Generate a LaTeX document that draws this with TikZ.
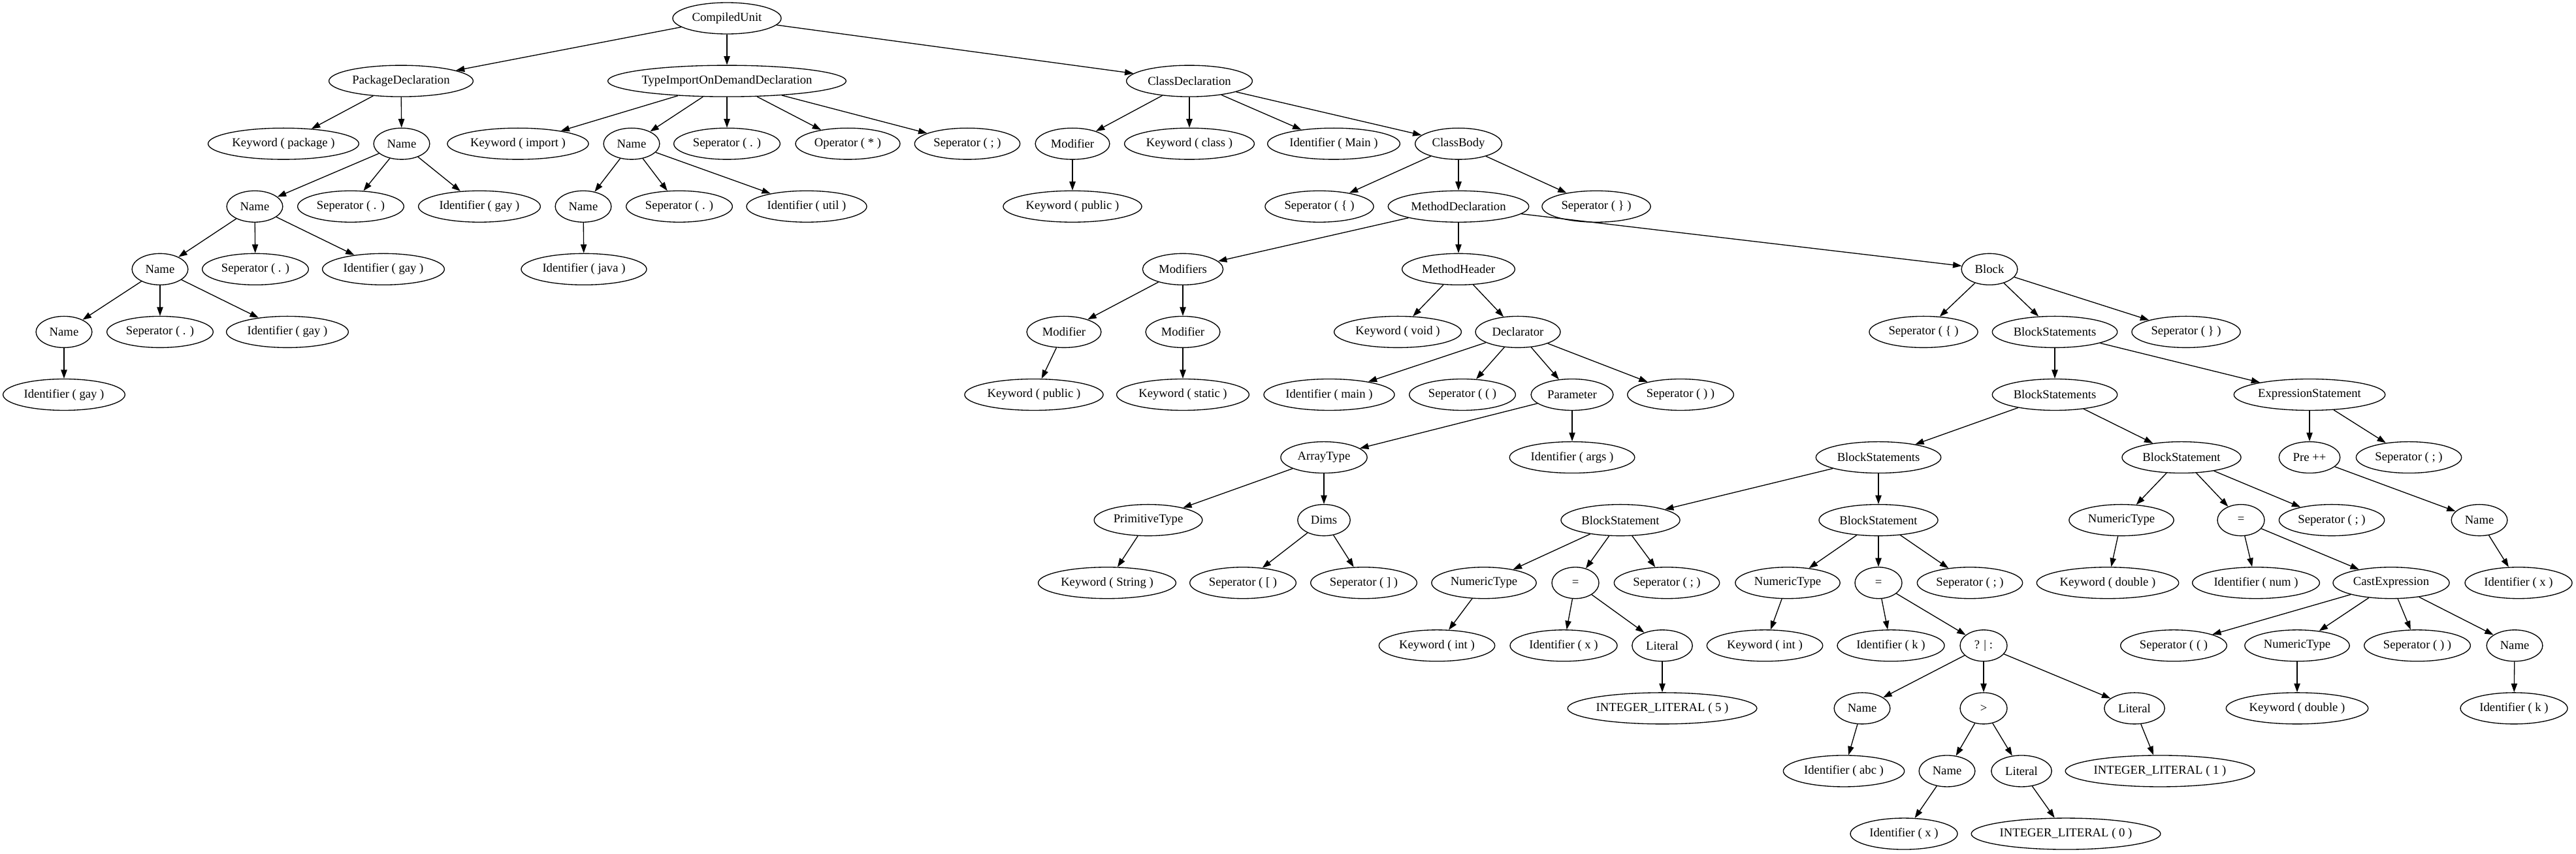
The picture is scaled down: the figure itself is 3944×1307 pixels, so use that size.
\documentclass[tikz,border=0pt]{standalone}
\usepackage{fontspec}
\setmainfont{Liberation Serif}
\usetikzlibrary{shapes.geometric,arrows.meta}
\newcommand\mk[1]{\makebox[0.912\width]{#1}}
\newcommand\nd[4]{\node[tn] (#1) at (#2,{28+96.08*#3}) {\mk{#4}};}
\tikzset{
  tn/.style={ellipse, draw, line width=1pt, inner xsep=7.5pt, inner ysep=3pt,
    minimum height=36pt, minimum width=54pt, font=\fontsize{14}{16}\selectfont},
  edge/.style={line width=1pt, -{Triangle[length=10pt,width=7pt]}}
}
\begin{document}
\begin{tikzpicture}[x=0.75pt,y=-0.75pt]
\useasboundingbox (0,0) rectangle (3944,1307);
% L0
\nd{cu}{1113}{0}{CompiledUnit}
% L1
\nd{pd}{614}{1}{PackageDeclaration}
\nd{tid}{1113}{1}{TypeImportOnDemandDeclaration}
\nd{cd}{1821}{1}{ClassDeclaration}
% L2
\nd{kpkg}{434}{2}{Keyword ( package )}
\nd{n1}{615}{2}{Name}
\nd{kimp}{793}{2}{Keyword ( import )}
\nd{n2}{967}{2}{Name}
\nd{sdot1}{1113}{2}{Seperator ( . )}
\nd{opstar}{1298}{2}{Operator ( * )}
\nd{ssemi1}{1481}{2}{Seperator ( ; )}
\nd{mod1}{1642}{2}{Modifier}
\nd{kclass}{1821}{2}{Keyword ( class )}
\nd{idmain}{2042}{2}{Identifier ( Main )}
\nd{cbody}{2233}{2}{ClassBody}
% L3
\nd{n3}{390}{3}{Name}
\nd{sdot2}{537}{3}{Seperator ( . )}
\nd{idgay1}{734}{3}{Identifier ( gay )}
\nd{n4}{893}{3}{Name}
\nd{sdot3}{1040}{3}{Seperator ( . )}
\nd{idutil}{1235}{3}{Identifier ( util )}
\nd{kpub1}{1642}{3}{Keyword ( public )}
\nd{slb}{2020}{3}{Seperator ( \{ )}
\nd{md}{2233}{3}{MethodDeclaration}
\nd{srb}{2444}{3}{Seperator ( \} )}
% L4
\nd{n5}{245}{4}{Name}
\nd{sdot4}{391}{4}{Seperator ( . )}
\nd{idgay2}{587}{4}{Identifier ( gay )}
\nd{idjava}{894}{4}{Identifier ( java )}
\nd{mods}{1811}{4}{Modifiers}
\nd{mh}{2233}{4}{MethodHeader}
\nd{block}{3046}{4}{Block}
% L5
\nd{n6}{98}{5}{Name}
\nd{sdot5}{245}{5}{Seperator ( . )}
\nd{idgay3}{440}{5}{Identifier ( gay )}
\nd{modA}{1629}{5}{Modifier}
\nd{modB}{1811}{5}{Modifier}
\nd{kvoid}{2140}{5}{Keyword ( void )}
\nd{decl}{2324}{5}{Declarator}
\nd{slb2}{2945}{5}{Seperator ( \{ )}
\nd{bss1}{3146}{5}{BlockStatements}
\nd{srb2}{3347}{5}{Seperator ( \} )}
% L6
\nd{idgay4}{98}{6}{Identifier ( gay )}
\nd{kpub2}{1583}{6}{Keyword ( public )}
\nd{kstatic}{1811}{6}{Keyword ( static )}
\nd{idmainl}{2035}{6}{Identifier ( main )}
\nd{slp}{2239}{6}{Seperator ( ( )}
\nd{param}{2407}{6}{Parameter}
\nd{srp}{2573}{6}{Seperator ( ) )}
\nd{bss2}{3146}{6}{BlockStatements}
\nd{es}{3536}{6}{ExpressionStatement}
% L7
\nd{at}{2027}{7}{ArrayType}
\nd{idargs}{2407}{7}{Identifier ( args )}
\nd{bss3}{2876}{7}{BlockStatements}
\nd{bs3}{3340}{7}{BlockStatement}
\nd{pre}{3536}{7}{Pre ++}
\nd{ssemi5}{3688}{7}{Seperator ( ; )}
% L8
\nd{pt}{1758}{8}{PrimitiveType}
\nd{dims}{2027}{8}{Dims}
\nd{bs1}{2481}{8}{BlockStatement}
\nd{bs2}{2876}{8}{BlockStatement}
\nd{nt3}{3248}{8}{NumericType}
\nd{eq3}{3431}{8}{=}
\nd{ssemi4}{3570}{8}{Seperator ( ; )}
\nd{nameX}{3796}{8}{Name}
% L9
\nd{kstring}{1695}{9}{Keyword ( String )}
\nd{slbr}{1903}{9}{Seperator ( [ )}
\nd{srbr}{2088}{9}{Seperator ( ] )}
\nd{nt1}{2272}{9}{NumericType}
\nd{eq1}{2412}{9}{=}
\nd{ssemi2}{2552}{9}{Seperator ( ; )}
\nd{nt2}{2737}{9}{NumericType}
\nd{eq2}{2876}{9}{=}
\nd{ssemi3}{3016}{9}{Seperator ( ; )}
\nd{kdouble1}{3227}{9}{Keyword ( double )}
\nd{idnum}{3454}{9}{Identifier ( num )}
\nd{cast}{3661}{9}{CastExpression}
\nd{idx2}{3856}{9}{Identifier ( x )}
% L10
\nd{kint1}{2200}{10}{Keyword ( int )}
\nd{idx1}{2394}{10}{Identifier ( x )}
\nd{lit1}{2545}{10}{Literal}
\nd{kint2}{2702}{10}{Keyword ( int )}
\nd{idk1}{2895}{10}{Identifier ( k )}
\nd{tern}{3037}{10}{? | :}
\nd{slp2}{3328}{10}{Seperator ( ( )}
\nd{nt4}{3517}{10}{NumericType}
\nd{srp2}{3701}{10}{Seperator ( ) )}
\nd{nameK}{3850}{10}{Name}
% L11
\nd{il5}{2545}{11}{INTEGER\_LITERAL ( 5 )}
\nd{nameabc}{2851}{11}{Name}
\nd{gt}{3037}{11}{>}
\nd{lit3}{3268}{11}{Literal}
\nd{kdouble2}{3517}{11}{Keyword ( double )}
\nd{idk2}{3849}{11}{Identifier ( k )}
% L12
\nd{idabc}{2823}{12}{Identifier ( abc )}
\nd{namex}{2981}{12}{Name}
\nd{lit2}{3095}{12}{Literal}
\nd{il1}{3307}{12}{INTEGER\_LITERAL ( 1 )}
% L13
\nd{idx3}{2915}{13}{Identifier ( x )}
\nd{il0}{3163}{13}{INTEGER\_LITERAL ( 0 )}
% edges
\foreach \a/\b in {cu/pd, cu/tid, cu/cd,
  pd/kpkg, pd/n1, n1/n3, n1/sdot2, n1/idgay1, n3/n5, n3/sdot4, n3/idgay2,
  n5/n6, n5/sdot5, n5/idgay3, n6/idgay4,
  tid/kimp, tid/n2, tid/sdot1, tid/opstar, tid/ssemi1, n2/n4, n2/sdot3, n2/idutil, n4/idjava,
  cd/mod1, cd/kclass, cd/idmain, cd/cbody, mod1/kpub1,
  cbody/slb, cbody/md, cbody/srb,
  md/mods, md/mh, md/block, mods/modA, mods/modB, modA/kpub2, modB/kstatic,
  mh/kvoid, mh/decl, decl/idmainl, decl/slp, decl/param, decl/srp,
  param/at, param/idargs, at/pt, at/dims, pt/kstring, dims/slbr, dims/srbr,
  block/slb2, block/bss1, block/srb2, bss1/bss2, bss1/es,
  bss2/bss3, bss2/bs3, es/pre, es/ssemi5, pre/nameX, nameX/idx2,
  bss3/bs1, bss3/bs2,
  bs1/nt1, bs1/eq1, bs1/ssemi2, nt1/kint1, eq1/idx1, eq1/lit1, lit1/il5,
  bs2/nt2, bs2/eq2, bs2/ssemi3, nt2/kint2, eq2/idk1, eq2/tern,
  tern/nameabc, tern/gt, tern/lit3, nameabc/idabc, gt/namex, gt/lit2, namex/idx3, lit2/il0, lit3/il1,
  bs3/nt3, bs3/eq3, bs3/ssemi4, nt3/kdouble1, eq3/idnum, eq3/cast,
  cast/slp2, cast/nt4, cast/srp2, cast/nameK, nt4/kdouble2, nameK/idk2}
  \draw[edge] (\a) -- (\b);
\end{tikzpicture}
\end{document}
